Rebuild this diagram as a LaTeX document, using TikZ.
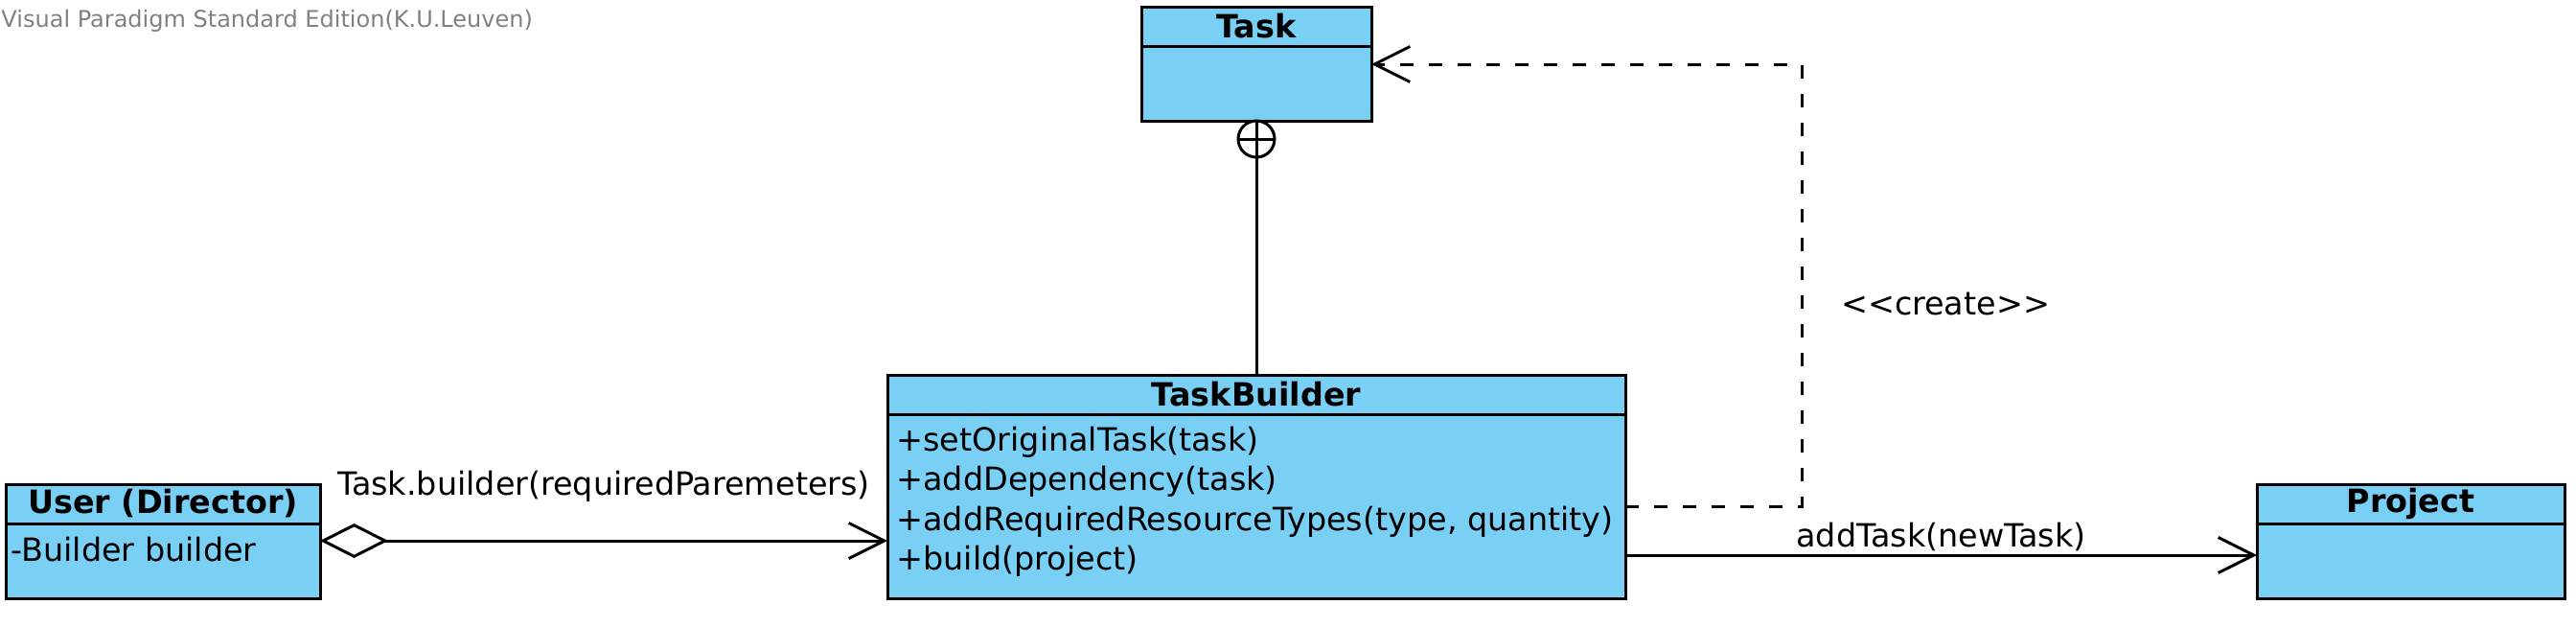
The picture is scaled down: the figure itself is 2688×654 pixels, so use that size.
\documentclass[tikz,border=0pt]{standalone}
\usepackage{fontspec}
\setmainfont{DejaVu Sans}
\usetikzlibrary{arrows.meta,positioning}
\definecolor{vpblue}{RGB}{122,207,245}
\newcommand\umlsize{\fontsize{16.7}{20}\selectfont}
\tikzset{
  classhead/.style={draw, fill=vpblue, inner sep=0pt, outer sep=0pt, minimum height=20.5pt, font=\umlsize\bfseries},
  classbody/.style={draw, fill=vpblue, inner sep=0pt, outer sep=0pt},
  member/.style={anchor=west, inner sep=0pt, font=\umlsize},
  lbl/.style={inner sep=0pt, font=\umlsize},
  openarrow/.style={-{Straight Barb[length=18.5pt,width=18.5pt]}},
}
\begin{document}
\begin{tikzpicture}[x=0.5pt, y=-0.5pt, line width=1.5pt]
  \useasboundingbox (0,0) rectangle (2688,654);
  \node[anchor=west, inner sep=0pt, text=gray, font=\fontsize{12}{14}\selectfont] (vp) at (0,22) {Visual Paradigm Standard Edition(K.U.Leuven)};
  % classes
  \node[classhead, minimum width=120pt] (A0_1) at (1311,27.5) {Task};
  \node[classbody, minimum width=120pt, minimum height=39pt, below=0pt of A0_1] (A0_1m) {};
  \node[classhead, minimum width=164pt] (A1_0) at (170,525.5) {User (Director)};
  \node[classbody, minimum width=164pt, minimum height=39pt, below=0pt of A1_0] (A1_0m) {};
  \node[classhead, minimum width=385pt] (A1_1) at (1311,411.5) {TaskBuilder};
  \node[classbody, minimum width=385pt, minimum height=96pt, below=0pt of A1_1] (A1_1m) {};
  \node[classhead, minimum width=160.5pt] (A1_2) at (2515.5,525.5) {Project};
  \node[classbody, minimum width=160.5pt, minimum height=39pt, below=0pt of A1_2] (A1_2m) {};
  % members
  \node[member] (A1_0a) at (10,573) {-Builder builder};
  \node[member] (A1_1a) at (934,461) {+setOriginalTask(task)};
  \node[member] (A1_1b) at (934,502) {+addDependency(task)};
  \node[member] (A1_1c) at (934,544) {+addRequiredResourceTypes(type, quantity)};
  \node[member] (A1_1d) at (934,585) {+build(project)};
  % nesting
  \node[circle, draw, fill=white, inner sep=0pt, outer sep=0pt, minimum size=19pt, below=0pt of A0_1m] (nest) {};
  \draw (nest.west) -- (nest.east);
  \draw (nest.north) -- (A1_1.north);
  % aggregation
  \draw[{Diamond[open,length=35.5pt,width=18pt]}-{Straight Barb[length=18.5pt,width=18.5pt]}] ([yshift=10.5pt]A1_0m.east) -- ([yshift=10.5pt]A1_0m.east -| A1_1m.west) node[lbl, midway, yshift=28.5pt] (agg) {Task.builder(requiredParemeters)};
  % association
  \draw[openarrow] ([yshift=-25.5pt]A1_1m.east) -- ([yshift=-25.5pt]A1_1m.east -| A1_2m.west) node[lbl, midway, yshift=9.5pt] (asc) {addTask(newTask)};
  % dependency
  \draw[openarrow, dash pattern=on 7pt off 8pt] (A1_1m.east) -- ++(92pt,0) |- ([yshift=10pt]A0_1m.east);
  \node[lbl] (crt) at (2030,317) {<\kern0pt<create>\kern0pt>};
\end{tikzpicture}
\end{document}
